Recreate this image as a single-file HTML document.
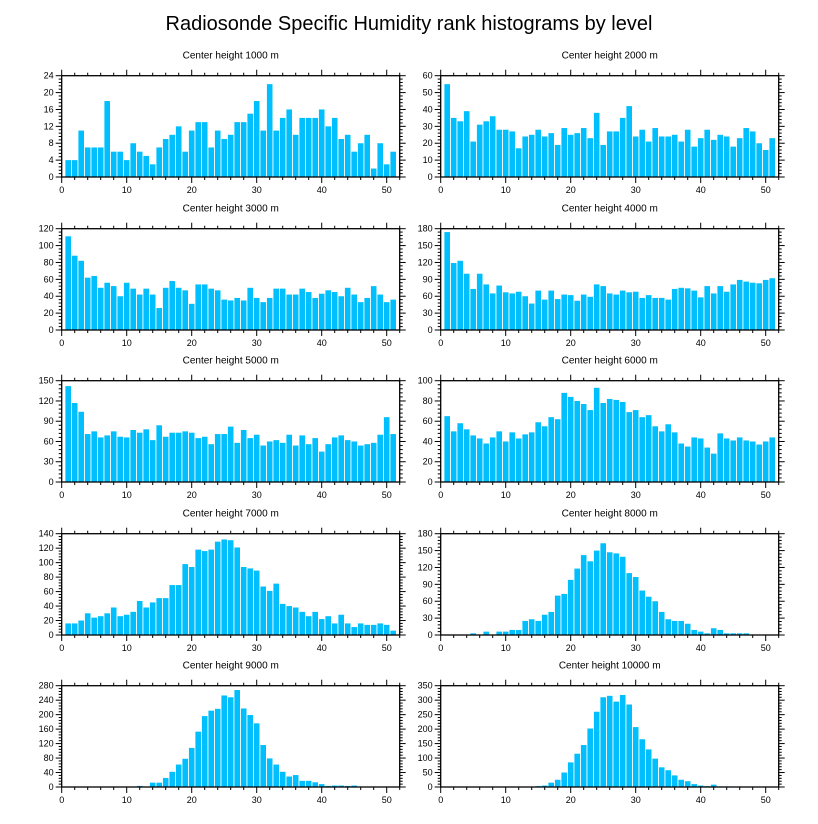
<!DOCTYPE html>
<html><head><meta charset="utf-8"><style>
html,body{margin:0;padding:0;background:#fff;}
svg{display:block;font-family:"Liberation Sans",sans-serif;}
</style></head><body>
<svg id="chart" width="818" height="824" viewBox="0 0 818 824" xmlns="http://www.w3.org/2000/svg">
<rect width="818" height="824" fill="#fff"/>
<text x="409" y="30" text-anchor="middle" font-size="20" fill="#000">Radiosonde Specific Humidity rank histograms by level</text>
</svg>
<script>
const titles = ["Center height 1000 m","Center height 2000 m","Center height 3000 m","Center height 4000 m","Center height 5000 m","Center height 6000 m","Center height 7000 m","Center height 8000 m","Center height 9000 m","Center height 10000 m"];
const yMax = [24,60,120,180,150,100,140,180,280,350];
const yStep = [4,10,20,30,30,20,20,30,40,50];
const xTicks = [0,10,20,30,40,50];
const h1000 = [4,4,11,7,7,7,18,6,6,4,8,6,5,3,7,9,10,12,6,11,13,13,7,11,9,10,13,13,15,18,11,22,11,14,16,10,14,14,14,16,12,14,9,10,6,8,10,2,8,3,6];
const h2000 = [55,35,33,39,21,31,33,36,28,28,27,17,24,25,28,24,26,19,29,25,26,29,23,38,19,27,27,35,42,24,28,21,29,24,24,25,21,28,18,23,28,22,25,24,18,23,29,27,20,16,23];
const h3000 = [111,88,82,62,64,50,56,52,40,56,49,42,49,42,26,50,58,50,47,31,54,54,49,47,36,35,38,35,50,38,33,38,49,49,42,42,49,45,38,43,47,45,40,50,42,33,38,52,42,33,36];
const h4000 = [174,119,123,100,73,100,81,65,79,67,65,68,60,47,70,54,70,55,63,62,52,63,59,81,78,65,63,70,67,68,57,62,57,57,54,73,75,74,70,58,78,65,78,68,81,89,86,84,83,89,92];
const h5000 = [142,117,104,71,75,66,69,75,67,66,77,73,78,62,84,67,73,73,75,73,65,67,56,71,71,82,58,77,65,70,54,60,62,58,70,54,69,56,65,45,56,66,69,62,60,54,56,58,70,96,71];
const h6000 = [65,50,58,52,46,43,38,44,50,40,49,43,47,49,59,55,64,62,88,84,80,77,71,93,78,82,81,79,69,71,64,66,55,50,57,49,38,35,44,43,34,28,48,43,41,44,41,40,37,40,44];
const h7000 = [16,16,20,30,24,26,30,38,26,28,32,47,38,45,51,51,69,69,98,94,118,116,118,129,132,131,121,94,92,89,67,61,71,43,40,38,32,26,32,22,26,16,28,16,11,16,14,14,16,14,6];
const h8000 = [1,0,0,0,3,0,6,0,6,6,9,9,25,28,25,36,41,70,73,98,118,142,131,150,163,147,145,139,110,103,79,68,60,41,28,25,25,20,9,6,3,12,9,3,3,3,3,0,0,0,0];
const h9000 = [0,0,0,0,0,0,0,0,0,0,1,3,1,12,12,25,42,62,78,108,153,196,211,216,253,248,268,217,199,176,116,79,62,42,29,33,17,17,13,8,3,4,4,3,4,0,0,0,0,0,0];
const h10000 = [0,0,0,0,0,0,0,0,0,0,0,0,0,0,3,5,15,25,50,85,115,145,202,260,310,315,295,318,285,207,165,130,98,68,58,40,25,20,10,5,3,8,2,2,0,0,0,0,0,0,0];
const series = [h1000,h2000,h3000,h4000,h5000,h6000,h7000,h8000,h9000,h10000];

const NS = "http://www.w3.org/2000/svg";
const svg = document.getElementById('chart');
function mk(tag, attrs, parent){const e=document.createElementNS(NS,tag);for(const k in attrs)e.setAttribute(k,attrs[k]);(parent||svg).appendChild(e);return e;}

const colX = [61.7, 440.7];
const pw = 338;           // width covering 0..52
const xMaxU = 52;
const rowTop = [75.7, 228.7, 380.7, 533.7, 685.7];
const ph = 101.3;

series.forEach((vals, i) => {
  const col = i % 2, row = Math.floor(i / 2);
  const x0 = colX[col], y0 = rowTop[row];
  const g = mk('g', {});
  
  
  const xs = v => x0 + v / xMaxU * pw;
  const ys = v => y0 + ph - v / yMax[i] * ph;
  const t = mk('text', {x: x0 + pw/2, y: y0 - 17, 'text-anchor':'middle', 'font-size':'10'}, g);
  t.textContent = titles[i];
  
  
  // bars
  const bw = pw / xMaxU * 0.86;
  vals.forEach((v, j) => {
    if (v <= 0) return;
    const r = mk('rect', {x: xs(j+1) - bw/2, y: ys(v), width: bw, height: ys(0) - ys(v), fill:'#00bfff'}, g);
    
    
  });
  // frame
  const fr = mk('rect', {x:x0, y:y0, width:pw, height:ph, fill:'none', stroke:'#000', 'stroke-width':'1.3'}, g);
  
  
  // x ticks
  for (let v = 0; v <= xMaxU; v += 2) {
    const major = v % 10 === 0;
    const L = major ? 6 : 3;
    const X = xs(v);
    mk('line', {x1:X, x2:X, y1:y0+ph, y2:y0+ph+L, stroke:'#000', 'stroke-width':'1'}, g);
    mk('line', {x1:X, x2:X, y1:y0, y2:y0-L, stroke:'#000', 'stroke-width':'1'}, g);
  }
  xTicks.forEach(v => {
    const l = mk('text', {x: xs(v), y: y0+ph+16, 'text-anchor':'middle', 'font-size':'9'}, g);
    l.textContent = v;
    
    
  });
  // y ticks
  const minor = yStep[i] / 5;
  for (let k = 0; k * minor <= yMax[i] + 1e-9; k++) {
    const v = k * minor;
    const major = k % 5 === 0;
    const L = major ? 6 : 3;
    const Y = ys(v);
    mk('line', {x1:x0, x2:x0-L, y1:Y, y2:Y, stroke:'#000', 'stroke-width':'1'}, g);
    mk('line', {x1:x0+pw, x2:x0+pw+L, y1:Y, y2:Y, stroke:'#000', 'stroke-width':'1'}, g);
    if (major) {
      const l = mk('text', {x: x0-8, y: Y+3, 'text-anchor':'end', 'font-size':'9'}, g);
      l.textContent = v;
      
      
    }
  }
});
</script>
</body></html>
